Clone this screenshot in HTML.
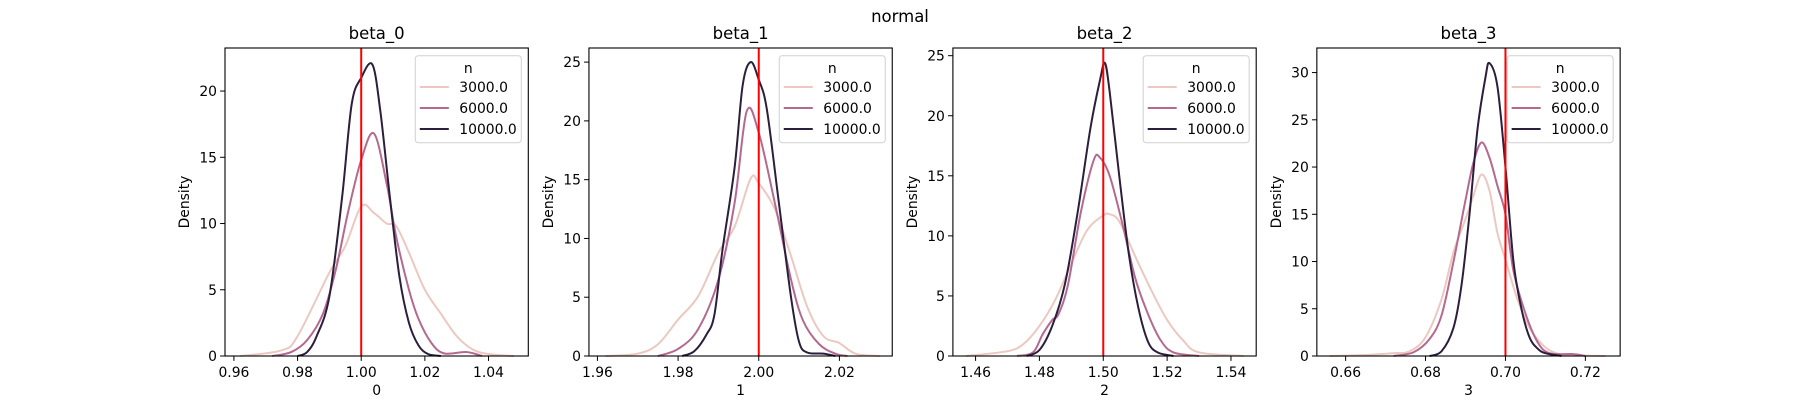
<!DOCTYPE html>
<html><head><meta charset="utf-8"><style>
html,body{margin:0;padding:0;background:#fff;}
svg{display:block;font-family:"DejaVu Sans","Liberation Sans",sans-serif;}
</style></head><body>
<svg id="fig" width="1800" height="400" viewBox="0 0 1800 400">
<rect width="1800" height="400" fill="#fff"/>
<text x="900" y="22" font-size="16.5" text-anchor="middle">normal</text>
</svg>
<script>
const panelTitles = ["beta_0","beta_1","beta_2","beta_3"];
const xLabels = ["0","1","2","3"];
const trueValues = [1.0, 2.0, 1.5, 0.7];
const seriesNames = ["3000.0","6000.0","10000.0"];
const xTicks0 = [0.96,0.98,1.00,1.02,1.04];
const xTicks1 = [1.96,1.98,2.00,2.02];
const xTicks2 = [1.46,1.48,1.50,1.52,1.54];
const xTicks3 = [0.66,0.68,0.70,0.72];
const yTicks0 = [0,5,10,15,20];
const yTicks1 = [0,5,10,15,20,25];
const yTicks2 = [0,5,10,15,20,25];
const yTicks3 = [0,5,10,15,20,25,30];
const xLims = [[0.9572,1.0525],[1.9579,2.0331],[1.4529,1.5479],[0.6528,0.7287]];
const yMax = [23.25,26.2,25.64,32.6];
// beta_0
const b0_3000_x = [0.962,0.975,0.98,0.99,0.995,1.0,1.004,1.008,1.011,1.015,1.02,1.025,1.03,1.035,1.04,1.048];
const b0_3000_y = [0,0.43,1.5,6.3,8.3,11.3,10.8,10.0,9.8,7.8,5,3.2,1.5,0.5,0.15,0];
const b0_6000_x = [0.972,0.978,0.983,0.988,0.992,0.996,1.0,1.004,1.008,1.011,1.015,1.018,1.022,1.026,1.033,1.038];
const b0_6000_y = [0,0.3,1.2,3.2,6.5,11,14.8,16.8,13,9,5,2.8,1.0,0.2,0.3,0];
const b0_10000_x = [0.98,0.983,0.986,0.99,0.994,0.997,1.0,1.0035,1.006,1.009,1.012,1.015,1.018,1.021,1.025];
const b0_10000_y = [0,0.3,1.5,4.5,12,19,21,22,18.5,12,6,2.5,0.8,0.15,0];
// beta_1
const b1_3000_x = [1.962,1.97,1.975,1.98,1.985,1.99,1.994,1.998,2.0,2.004,2.008,2.012,2.016,2.02,2.024,2.03];
const b1_3000_y = [0,0.2,1.0,3.1,5.1,8.8,11,15.1,14.7,12.5,8.5,4.2,1.7,1.1,0.2,0];
const b1_6000_x = [1.975,1.98,1.985,1.99,1.994,1.997,2.0,2.004,2.008,2.011,2.015,2.019,2.022];
const b1_6000_y = [0,0.6,2.3,6.5,13,20.8,19,13,6.5,3,1.0,0.2,0];
const b1_10000_x = [1.981,1.984,1.987,1.989,1.991,1.994,1.996,1.998,2.0,2.002,2.005,2.008,2.010,2.012,2.016,2.019];
const b1_10000_y = [0,0.4,1.8,3.5,9,16,23,25,23.5,21,13,5,1.2,0.3,0.2,0];
// beta_2
const b2_3000_x = [1.457,1.47,1.475,1.48,1.485,1.49,1.495,1.5,1.502,1.505,1.51,1.515,1.52,1.525,1.53,1.544];
const b2_3000_y = [0,0.4,1.0,2.5,4.7,7.7,10.5,11.7,11.8,11.2,8.3,5.5,3,1.3,0.3,0];
const b2_6000_x = [1.473,1.478,1.481,1.484,1.486,1.489,1.493,1.497,1.499,1.502,1.506,1.51,1.514,1.518,1.522,1.53];
const b2_6000_y = [0,0.3,1.8,3.0,3.5,6,12,16.3,16.5,15,11,6.5,3.5,1.3,0.3,0];
const b2_10000_x = [1.476,1.48,1.484,1.488,1.492,1.496,1.499,1.5005,1.502,1.505,1.508,1.511,1.514,1.517,1.522];
const b2_10000_y = [0,0.5,2.5,6,12,19,23,24.4,22,15,8.5,4,1.2,0.3,0];
// beta_3
const b3_3000_x = [0.656,0.665,0.672,0.676,0.68,0.684,0.687,0.69,0.692,0.694,0.696,0.698,0.700,0.703,0.706,0.709,0.712,0.716,0.725];
const b3_3000_y = [0,0.1,0.3,0.5,2,6,11,14.5,17,19.2,17.5,13,10.2,6,3,1.3,0.4,0.1,0];
const b3_6000_x = [0.672,0.677,0.681,0.684,0.687,0.69,0.692,0.694,0.696,0.698,0.7,0.702,0.705,0.708,0.711,0.717,0.72];
const b3_6000_y = [0,0.4,1.8,4.3,10,16.5,20.5,22.6,21,18,15,9,4.5,1.5,0.3,0.2,0];
const b3_10000_x = [0.681,0.684,0.687,0.689,0.691,0.693,0.695,0.696,0.698,0.7,0.702,0.704,0.706,0.708,0.71,0.714];
const b3_10000_y = [0,0.5,3,7.5,15,24,29.5,31,28.5,20,10,5,2,0.8,0.3,0];

const xTicks=[xTicks0,xTicks1,xTicks2,xTicks3];
const yTicks=[yTicks0,yTicks1,yTicks2,yTicks3];
const seriesX=[[b0_3000_x,b0_6000_x,b0_10000_x],[b1_3000_x,b1_6000_x,b1_10000_x],[b2_3000_x,b2_6000_x,b2_10000_x],[b3_3000_x,b3_6000_x,b3_10000_x]];
const seriesY=[[b0_3000_y,b0_6000_y,b0_10000_y],[b1_3000_y,b1_6000_y,b1_10000_y],[b2_3000_y,b2_6000_y,b2_10000_y],[b3_3000_y,b3_6000_y,b3_10000_y]];
const colors=["#ecc8c1","#b5698f","#2c1e3d"];
const NS="http://www.w3.org/2000/svg";
const svg=document.getElementById('fig');
function mk(tag,attrs,parent){const e=document.createElementNS(NS,tag);for(const k in attrs)e.setAttribute(k,attrs[k]);(parent||svg).appendChild(e);return e;}
const axW=303.3, gap=60.65, axTop=48, axBot=356;
function smooth(pts){let d="M"+pts[0][0].toFixed(2)+","+pts[0][1].toFixed(2);
 for(let i=0;i<pts.length-1;i++){const p0=pts[Math.max(0,i-1)],p1=pts[i],p2=pts[i+1],p3=pts[Math.min(pts.length-1,i+2)];
  const c1=[p1[0]+(p2[0]-p0[0])/6,p1[1]+(p2[1]-p0[1])/6],c2=[p2[0]-(p3[0]-p1[0])/6,p2[1]-(p3[1]-p1[1])/6];
  c1[1]=Math.min(c1[1],axBot);c2[1]=Math.min(c2[1],axBot);
  d+=" C"+c1[0].toFixed(2)+","+c1[1].toFixed(2)+" "+c2[0].toFixed(2)+","+c2[1].toFixed(2)+" "+p2[0].toFixed(2)+","+p2[1].toFixed(2);}
 return d;}
for(let p=0;p<4;p++){
 const L=225+p*(axW+gap), R=L+axW;
 const xs=v=>L+(v-xLims[p][0])/(xLims[p][1]-xLims[p][0])*axW;
 const ys=v=>axBot-v/yMax[p]*(axBot-axTop);
 const g=mk('g',{});
 
 
 const t=mk('text',{x:(L+R)/2,y:39,'font-size':16.5,'text-anchor':'middle'},g);t.textContent=panelTitles[p];
 
 
 for(let s=0;s<3;s++){
  const pts=seriesX[p][s].map((x,i)=>[xs(x),ys(seriesY[p][s][i])]);
  const path=mk('path',{d:smooth(pts),fill:'none',stroke:colors[s],'stroke-width':2,'stroke-linejoin':'round'},g);
  
  
 }
 const rl=mk('line',{x1:xs(trueValues[p]),x2:xs(trueValues[p]),y1:axTop,y2:axBot,stroke:'#ff0000','stroke-width':2},g);
 
 
 const fr=mk('rect',{x:L,y:axTop,width:axW,height:axBot-axTop,fill:'none',stroke:'#000','stroke-width':1.1},g);
 
 
 xTicks[p].forEach(v=>{const x=xs(v);mk('line',{x1:x,x2:x,y1:axBot,y2:axBot+4.9,stroke:'#000','stroke-width':1},g);
  const tx=mk('text',{x:x,y:377,'font-size':13.9,'text-anchor':'middle'},g);tx.textContent=v.toFixed(2);
  
  });
 yTicks[p].forEach(v=>{const y=ys(v);mk('line',{x1:L,x2:L-4.9,y1:y,y2:y,stroke:'#000','stroke-width':1},g);
  const ty=mk('text',{x:L-8,y:y+5,'font-size':13.9,'text-anchor':'end'},g);ty.textContent=v;
  
  });
 const xl=mk('text',{x:(L+R)/2,y:395,'font-size':13.9,'text-anchor':'middle'},g);xl.textContent=xLabels[p];
 
 
 const yl=mk('text',{x:0,y:0,'font-size':13.9,'text-anchor':'middle',transform:`translate(${L-36},${(axTop+axBot)/2}) rotate(-90)`},g);yl.textContent='Density';
 
 
 const lg=mk('g',{},g);
 
 
 mk('rect',{x:R-113,y:axTop+7.7,width:106,height:87,rx:3,fill:'#fff','fill-opacity':0.8,stroke:'#d0d0d0','stroke-width':1},lg);
 const lt=mk('text',{x:R-60,y:axTop+25,'font-size':13.9,'text-anchor':'middle'},lg);lt.textContent='n';
 for(let s=0;s<3;s++){const y=axTop+39+s*21;
  const e=mk('g',{},lg);
  
  
  mk('line',{x1:R-108.5,x2:R-79.5,y1:y,y2:y,stroke:colors[s],'stroke-width':2},e);
  const et=mk('text',{x:R-69,y:y+5,'font-size':13.9},e);et.textContent=seriesNames[s];}
}
</script>
</body></html>
